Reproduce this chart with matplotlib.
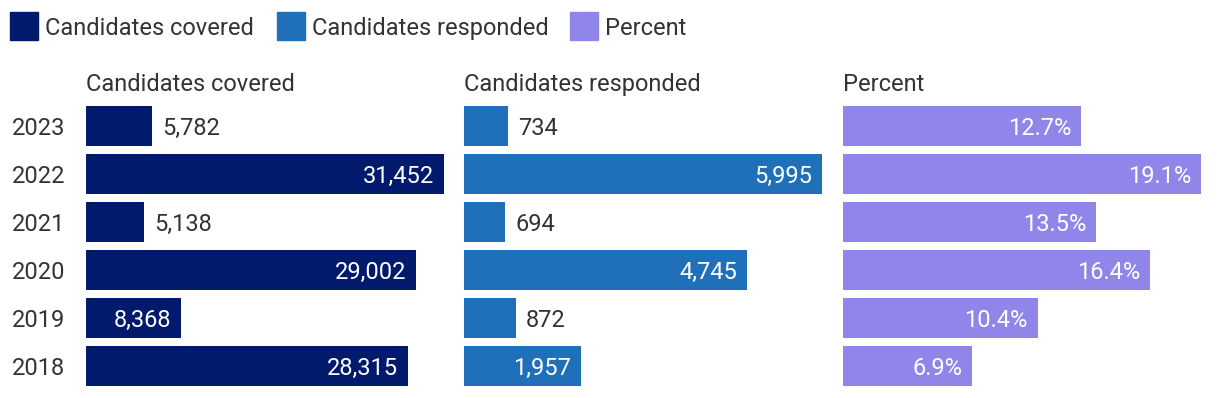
import matplotlib.pyplot as plt
from matplotlib.patches import Rectangle

plt.rcParams['font.family'] = ['Roboto', 'DejaVu Sans']

years = ["2023", "2022", "2021", "2020", "2019", "2018"]
covered = [5782, 31452, 5138, 29002, 8368, 28315]
responded = [734, 5995, 694, 4745, 872, 1957]
percent = [12.7, 19.1, 13.5, 16.4, 10.4, 6.9]

titles = ["Candidates covered", "Candidates responded", "Percent"]
colors = ["#021a6c", "#1f70b8", "#9086ea"]
text_col = "#333333"
fs = 17

W, H = 1220, 398
fig = plt.figure(figsize=(W / 100, H / 100), dpi=100)

panels = [covered, responded, percent]
fmts = [lambda v: f"{v:,}", lambda v: f"{v:,}", lambda v: f"{v:.1f}%"]
lefts = [86, 464, 843]
pw = 358
top, bot = 102, 390

for vals, fmt, left, title, col in zip(panels, fmts, lefts, titles, colors):
    ax = fig.add_axes([left / W, 1 - bot / H, pw / W, (bot - top) / H])
    ypos = list(range(len(vals)))
    vmax = max(vals)
    ax.barh(ypos, vals, height=40 / 48, color=col)
    ax.set_xlim(0, vmax)
    ax.set_ylim(len(vals) - 0.5, -0.5)
    ax.axis('off')
    pad = 10 / pw * vmax
    for y, v in zip(ypos, vals):
        if v / vmax > 0.22:
            ax.text(v - pad, y, fmt(v), ha='right', va='center_baseline',
                    color='white', fontsize=fs)
        else:
            ax.text(v + pad, y, fmt(v), ha='left', va='center_baseline',
                    color=text_col, fontsize=fs)
    fig.text(left / W, 1 - 82 / H, title, ha='left', va='center_baseline',
             color=text_col, fontsize=fs)

for i, yr in enumerate(years):
    yc = 126 + 48 * i
    fig.text(12 / W, 1 - yc / H, yr, ha='left', va='center_baseline',
             color=text_col, fontsize=fs)

# legend
leg_x = [10, 277, 570]
for lx, title, col in zip(leg_x, titles, colors):
    fig.patches.append(Rectangle((lx / W, 1 - 40 / H), 28 / W, 28 / H,
                                 transform=fig.transFigure, color=col))
    fig.text((lx + 35) / W, 1 - 26 / H, title, ha='left', va='center_baseline',
             color=text_col, fontsize=fs)

fig.savefig("out.png", dpi=100)
